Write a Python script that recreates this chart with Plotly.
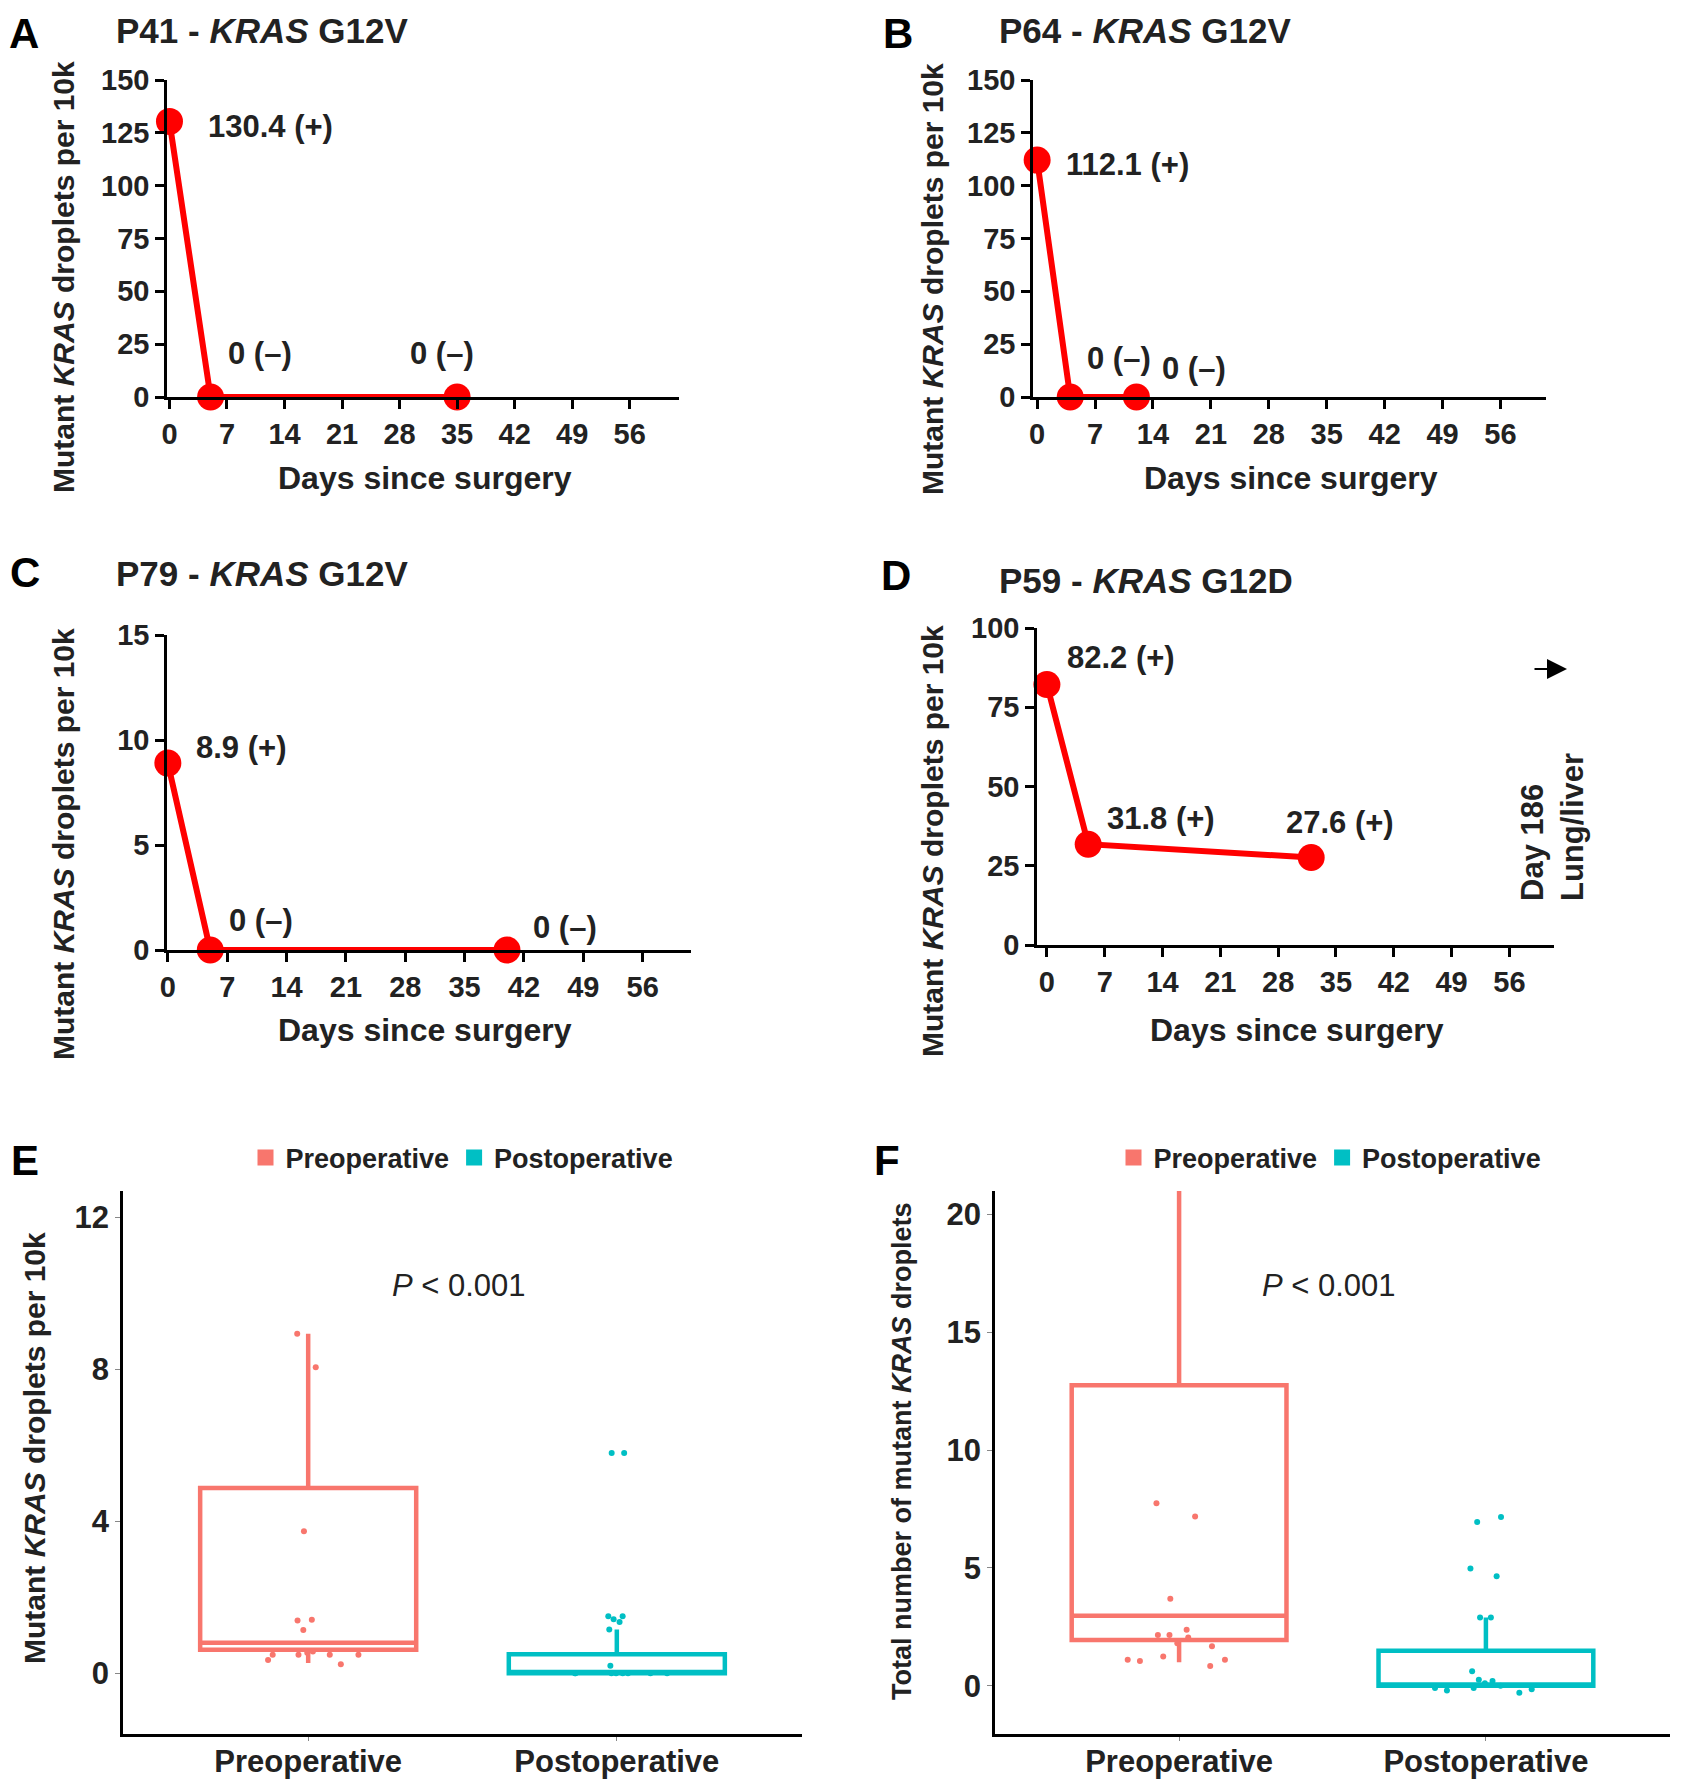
import plotly.graph_objects as go

W, H = 1682, 1783

# ---------- data ----------
days_a = [0, 5, 35]
vals_a = [130.4, 0, 0]
labels_a = ["130.4 (+)", "0 (–)", "0 (–)"]

days_b = [0, 4, 12]
vals_b = [112.1, 0, 0]
labels_b = ["112.1 (+)", "0 (–)", "0 (–)"]

days_c = [0, 5, 40]
vals_c = [8.9, 0, 0]
labels_c = ["8.9 (+)", "0 (–)", "0 (–)"]

days_d = [0, 5, 32]
vals_d = [82.2, 31.8, 27.6]
labels_d = ["82.2 (+)", "31.8 (+)", "27.6 (+)"]

day_ticks = [0, 7, 14, 21, 28, 35, 42, 49, 56]
groups = ["Preoperative", "Postoperative"]

# panel E: box stats per group (q1, median, q3, lower, upper) and sample points
e_q1 = [0.62, 0.0]
e_med = [0.8, 0.03]
e_q3 = [4.88, 0.5]
e_lo = [0.27, 0.0]
e_hi = [8.94, 1.15]
e_pre = [8.94, 8.06, 3.74, 1.41, 1.39, 1.14, 0.57, 0.54, 0.49, 0.49, 0.49, 0.49, 0.35, 0.24]
e_post = [5.8, 5.8, 1.5, 1.5, 1.42, 1.35, 1.15, 0.2, 0, 0, 0, 0, 0, 0, 0, 0]

# panel F
f_q1 = [1.94, 0.0]
f_med = [2.97, 0.05]
f_q3 = [12.75, 1.48]
f_lo = [1.0, 0.0]
f_hi = [22.0, 2.9]
f_pre = [7.74, 7.18, 3.69, 2.38, 2.15, 2.15, 2.05, 1.8, 1.68, 1.24, 1.1, 1.1, 1.05, 0.84]
f_post = [7.16, 6.95, 4.98, 4.65, 2.9, 2.9, 0.61, 0.25, 0.2, 0.1, 0, -0.1, -0.15, -0.2, -0.3, -0.1]

# ---------- styling ----------
SANS = "Liberation Sans, Arial"
RED = "#ff0000"
PRE_C = "#F8766D"
POST_C = "#00BFC4"
INK = "#222"
OFF = 8  # page body margin


def px(x):
    return (x - OFF) / W


def py(y):
    return 1 - (y - OFF) / H


def bold(size, family=SANS):
    return dict(family=family, size=size, color=INK, weight="bold")


fig = go.Figure()

# line panels: (id, days, vals, labels, xdomain px, ydomain px, xrange, yrange, ytick step, label offsets)
line_panels = [
    ("", days_a, vals_a, labels_a, (167, 679), (80, 397), [-0.3, 62], [0, 150], 25,
     [(37, -5), (15, 43), (-49, 43)]),
    ("2", days_b, vals_b, labels_b, (1033, 1546), (80, 397), [-0.5, 61.5], [0, 150], 25,
     [(27, -4), (15, 38), (24, 28)]),
    ("3", days_c, vals_c, labels_c, (167, 691), (635, 950), [-0.1, 61.7], [0, 15], 5,
     [(26, 16), (17, 30), (24, 23)]),
    ("4", days_d, vals_d, labels_d, (1037, 1554), (628, 945), [-1.2, 61.4], [0, 100], 25,
     [(18, 27), (17, 26), (-27, 35)]),
]

for sid, dx, dy, labs, xd, yd, xr, yr, step, offs in line_panels:
    fig.add_trace(go.Scatter(
        x=dx, y=dy, mode="lines+markers", xaxis="x" + sid, yaxis="y" + sid,
        line=dict(color=RED, width=6), marker=dict(color=RED, size=27),
        cliponaxis=False, showlegend=False,
    ))
    axis_common = dict(showline=True, linecolor="black", linewidth=2.5, ticks="outside",
                       ticklen=9, tickwidth=2.5, tickcolor="black", showgrid=False,
                       zeroline=False, tickfont=bold(29))
    fig.update_layout({
        "xaxis" + sid: dict(domain=[px(xd[0]), px(xd[1])], range=xr, tickvals=day_ticks,
                            anchor="y" + sid, **axis_common),
        "yaxis" + sid: dict(domain=[py(yd[1]), py(yd[0])], range=yr, dtick=step,
                            anchor="x" + sid, **axis_common),
    })
    for x, y, t, (xs, ys) in zip(dx, dy, labs, offs):
        fig.add_annotation(x=x, y=y, xref="x" + sid, yref="y" + sid, text=t, showarrow=False,
                           xanchor="left", yanchor="middle", xshift=xs, yshift=ys,
                           font=bold(31))

# box panels
box_panels = [
    ("5", "legend", e_q1, e_med, e_q3, e_lo, e_hi, e_pre, e_post, (123, 802), [-1.6, 12.7],
     [0, 4, 8, 12], 10.2, 462),
    ("6", "legend2", f_q1, f_med, f_q3, f_lo, f_hi, f_pre, f_post, (995, 1670), [-2.05, 21.0],
     [0, 5, 10, 15, 20], 17.0, 1330),
]

for sid, leg, q1, med, q3, lo, hi, pre, post, xd, yr, yt, p_y, leg_x in box_panels:
    for i, (g, c, pts) in enumerate(zip(groups, [PRE_C, POST_C], [pre, post])):
        fig.add_trace(go.Box(
            x=[g], q1=[q1[i]], median=[med[i]], q3=[q3[i]], lowerfence=[lo[i]],
            upperfence=[hi[i]], boxpoints=False, width=0.7, whiskerwidth=0,
            fillcolor="white", line=dict(color=c, width=4.5),
            xaxis="x" + sid, yaxis="y" + sid, showlegend=False, hoverinfo="skip",
        ))
        fig.add_trace(go.Box(
            x=[g] * len(pts), y=pts, boxpoints="all", pointpos=0, jitter=0.6, width=0.7,
            whiskerwidth=0, fillcolor="rgba(0,0,0,0)", line=dict(color="rgba(0,0,0,0)", width=0),
            marker=dict(color=c, size=6), xaxis="x" + sid, yaxis="y" + sid,
            showlegend=False,
        ))
        fig.add_trace(go.Scatter(
            x=[None], y=[None], mode="markers", name=g, legend=leg,
            marker=dict(symbol="square", color=c, size=18),
            xaxis="x" + sid, yaxis="y" + sid,
        ))
    fig.update_layout({
        "xaxis" + sid: dict(domain=[px(xd[0]), px(xd[1])], range=[-0.6, 1.6], anchor="y" + sid,
                            showline=True, linecolor="black", linewidth=2.5, ticks="outside",
                            ticklen=4, tickcolor="#888", showgrid=False, zeroline=False,
                            ticklabelstandoff=-6,
                            categoryorder="array", categoryarray=groups, tickfont=bold(31)),
        "yaxis" + sid: dict(domain=[py(1734), py(1191)], range=yr, tickvals=yt, anchor="x" + sid,
                            showline=True, linecolor="black", linewidth=2.5, ticks="outside",
                            ticklen=5, tickcolor="#888", showgrid=False, zeroline=False,
                            tickfont=bold(31)),
        leg: dict(orientation="h", x=px(leg_x), y=py(1158), xanchor="center", yanchor="middle",
                  font=bold(27), itemwidth=30, bgcolor="rgba(0,0,0,0)"),
    })
    fig.add_annotation(x=0.49, y=p_y, xref="x" + sid, yref="y" + sid,
                       text="<i>P</i> < 0.001", showarrow=False,
                       xanchor="center", yanchor="middle",
                       font=dict(family=SANS, size=31, color=INK))

# panel letters
for t, x, y in [("A", 24, 33), ("B", 898, 33), ("C", 25, 572), ("D", 896, 575),
                ("E", 25, 1160), ("F", 887, 1160)]:
    fig.add_annotation(x=px(x), y=py(y), xref="paper", yref="paper", text=t, showarrow=False,
                       xanchor="center", yanchor="middle",
                       font=dict(family=SANS, size=42, color="black", weight="bold"))

# panel titles
for t, x, y in [("P41 - <i>KRAS</i> G12V", 114, 30), ("P64 - <i>KRAS</i> G12V", 997, 30),
                ("P79 - <i>KRAS</i> G12V", 114, 574), ("P59 - <i>KRAS</i> G12D", 997, 580)]:
    fig.add_annotation(x=px(x), y=py(y), xref="paper", yref="paper", text=t, showarrow=False,
                       xanchor="left", yanchor="middle", font=bold(35))

# x titles
for x, y in [(425, 478), (1291, 478), (425, 1030), (1297, 1030)]:
    fig.add_annotation(x=px(x), y=py(y), xref="paper", yref="paper", text="Days since surgery",
                       showarrow=False, xanchor="center", yanchor="middle", font=bold(32))

# y titles
ytitle = "Mutant <i>KRAS</i> droplets per 10k"
for t, x, y, s in [(ytitle, 63, 277, 30), (ytitle, 932, 279, 30), (ytitle, 63, 844, 30),
                   (ytitle, 932, 841, 30), (ytitle, 34, 1448, 30),
                   ("Total number of mutant <i>KRAS</i> droplets", 902, 1451, 27)]:
    fig.add_annotation(x=px(x), y=py(y), xref="paper", yref="paper", text=t, textangle=-90,
                       showarrow=False, xanchor="center", yanchor="middle", font=bold(s))

# panel D recurrence note
fig.add_annotation(x=px(1567), y=py(669), xref="paper", yref="paper", text="", showarrow=True,
                   arrowhead=2, arrowsize=2, arrowwidth=2, arrowcolor="black", ax=-34, ay=0)
fig.add_annotation(x=px(1552), y=py(827), xref="paper", yref="paper",
                   text="Day 186<br>Lung/liver", textangle=-90, align="left", showarrow=False,
                   xanchor="center", yanchor="middle", font=bold(31))

fig.update_layout(
    width=W, height=H, margin=dict(l=0, r=0, t=0, b=0, autoexpand=False),
    paper_bgcolor="white", plot_bgcolor="white", boxmode="overlay",
)

fig.write_html("out.html")
